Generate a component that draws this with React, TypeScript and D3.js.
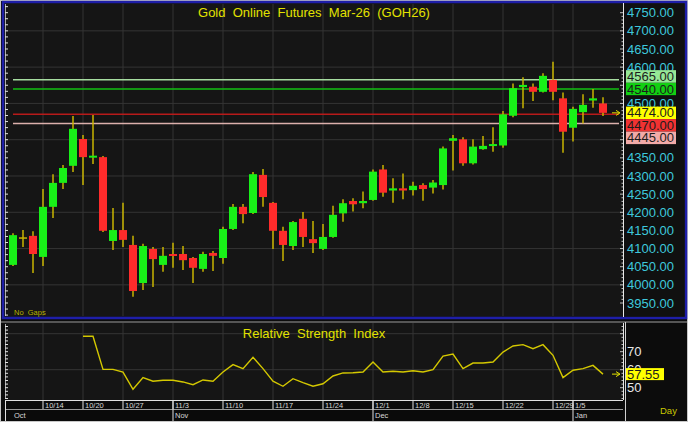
import * as d3 from "d3";

// trading days shown on the chart
const dates = [
  "10/9", "10/10", "10/13", "10/14", "10/15", "10/16", "10/17", "10/20", "10/21", "10/22",
  "10/23", "10/27", "10/28", "10/29", "10/30", "10/31", "11/3", "11/4", "11/5", "11/6",
  "11/7", "11/10", "11/11", "11/12", "11/13", "11/14", "11/17", "11/18", "11/19", "11/20",
  "11/21", "11/24", "11/25", "11/26", "11/27", "11/28", "12/1", "12/2", "12/3", "12/4",
  "12/8", "12/9", "12/10", "12/11", "12/15", "12/16", "12/17", "12/18", "12/19", "12/22",
  "12/23", "12/24", "12/25", "12/26", "12/29", "12/30", "1/5", "1/6", "1/7", "1/8",
];

const opens = [
  4055, 4129, 4135, 4077, 4215, 4281, 4328, 4402, 4353, 4352,
  4121, 4151, 4110, 4005, 4099, 4055, 4085, 4085, 4074, 4044,
  4088, 4074, 4154, 4215, 4198, 4303, 4226, 4149, 4107, 4182,
  4126, 4099, 4132, 4197, 4231, 4225, 4234, 4318, 4260, 4266,
  4261, 4275, 4268, 4275, 4397, 4401, 4335, 4374, 4385, 4384,
  4466, 4545, 4546, 4532, 4565, 4514, 4433, 4476, 4508, 4500,
];
const highs = [
  4142, 4151, 4148, 4264, 4305, 4330, 4465, 4413, 4468, 4355,
  4212, 4226, 4135, 4113, 4104, 4104, 4116, 4107, 4077, 4091,
  4093, 4160, 4223, 4223, 4311, 4319, 4228, 4160, 4176, 4201,
  4176, 4168, 4218, 4236, 4239, 4257, 4318, 4330, 4294, 4307,
  4284, 4280, 4289, 4381, 4413, 4407, 4401, 4410, 4434, 4479,
  4555, 4572, 4555, 4583, 4615, 4530, 4491, 4525, 4540, 4517,
];
const lows = [
  4052, 4104, 4033, 4052, 4184, 4264, 4311, 4275, 4333, 4146,
  4096, 4104, 3967, 3986, 3994, 4036, 4047, 4041, 4005, 4036,
  4038, 4058, 4151, 4170, 4195, 4215, 4099, 4066, 4096, 4104,
  4088, 4096, 4130, 4174, 4202, 4211, 4232, 4243, 4226, 4236,
  4246, 4232, 4252, 4263, 4315, 4328, 4332, 4372, 4367, 4378,
  4462, 4487, 4507, 4530, 4509, 4364, 4395, 4445, 4488, 4465,
];
const closes = [
  4137, 4129, 4085, 4215, 4281, 4322, 4430, 4352, 4356, 4149,
  4151, 4124, 3983, 4107, 4071, 4080, 4080, 4068, 4047, 4085,
  4080, 4154, 4215, 4195, 4305, 4242, 4149, 4110, 4173, 4132,
  4115, 4132, 4193, 4225, 4222, 4231, 4312, 4254, 4266, 4260,
  4273, 4264, 4282, 4376, 4404, 4335, 4381, 4383, 4388, 4470,
  4542, 4551, 4532, 4576, 4532, 4422, 4485, 4496, 4514, 4474,
];

const rsi = [
  null, null, null, null, null, null, null, 78.6, 78.6, 60.2,
  60.2, 58.7, 49.1, 55.6, 53.6, 54.1, 54.1, 53.2, 51.7, 54.3,
  53.6, 58.7, 62.8, 60.6, 66.9, 60.6, 53.6, 50.8, 55.0, 52.8,
  50.8, 52.2, 56.5, 58.2, 58.3, 58.7, 64.3, 58.7, 59.1, 58.7,
  59.4, 58.7, 60.0, 67.6, 68.7, 60.6, 63.7, 63.7, 64.3, 69.8,
  73.2, 73.9, 71.7, 73.9, 68.0, 55.6, 59.7, 60.6, 62.4, 57.55,
];

const weekTicks = ["10/14", "10/20", "10/27", "11/3", "11/10", "11/17", "11/24", "12/1", "12/8", "12/15", "12/22", "12/29", "1/5"];
const monthLabels = ["Oct", "Nov", "Dec", "Jan"];
const monthFirstDays = ["10/9", "11/3", "12/1", "1/5"];

const levelValues = [4565, 4540, 4470, 4445];
const levelLineColors = ["#a6dca0", "#12c012", "#b81a1a", "#dcb0ac"];
const levelBoxColors = ["#96e896", "#12d012", "#f03232", "#f2aaa8"];
const lastPrice = 4474;
const lastRsi = 57.55;

const FONT = "'Liberation Sans', Arial, sans-serif";
const GREEN = "#18f018";
const RED = "#ff2b2b";
const WICK = "#c8b400";
const GRID = "#343434";
const CYAN = "#3ec8dc";
const YELLOW = "#e2e200";

export default function App() {
  const x = d3.scaleBand<number>().domain(d3.range(dates.length)).range([8, 608]);
  const cx = (i: number) => (x(i) as number) + x.bandwidth() / 2;
  const y = d3.scaleLinear().domain([3950, 4750]).range([303, 12.7]);
  const yr = d3.scaleLinear().domain([50, 70]).range([387.7, 351.7]);

  const tickX = weekTicks.map((t) => cx(dates.indexOf(t)));
  const monthX = monthFirstDays.map((t) => cx(dates.indexOf(t)));

  const rsiLine = d3
    .line<number | null>()
    .defined((d) => d != null)
    .x((_, i) => cx(i))
    .y((d) => yr(d as number));

  // price label boxes: last price stays, others stack away from it
  const boxH = 12.5;
  const boxes: { v: number; fill: string; cy: number }[] = [];
  const lastY = y(lastPrice);
  boxes.push({ v: lastPrice, fill: "#ffff00", cy: lastY });
  const above = levelValues
    .map((v, i) => ({ v, fill: levelBoxColors[i] }))
    .filter((d) => d.v > lastPrice)
    .sort((a, b) => a.v - b.v);
  let edge = lastY;
  above.forEach((d) => {
    const cy = Math.min(y(d.v), edge - boxH);
    boxes.push({ ...d, cy });
    edge = cy;
  });
  const below = levelValues
    .map((v, i) => ({ v, fill: levelBoxColors[i] }))
    .filter((d) => d.v < lastPrice)
    .sort((a, b) => b.v - a.v);
  edge = lastY;
  below.forEach((d) => {
    const cy = Math.max(y(d.v), edge + boxH);
    boxes.push({ ...d, cy });
    edge = cy;
  });

  // axis labels fully hidden behind a box are not drawn
  const axisLabels = y.ticks(16).filter((t) => !boxes.some((b) => Math.abs(b.cy - y(t)) < 5));

  const rulerTicks = d3.range(3900, 4800, 100 / 6);
  const axisMinor = d3.range(3950, 4751, 10);
  const rsiMinor = d3.range(44, 85, 2);

  return (
    <svg
      width={688}
      height={422}
      style={{ position: "absolute", left: 0, top: 0, fontFamily: FONT }}
    >
      <rect x={0} y={0} width={688} height={422} fill="#0c0c0c" />
      <rect x={0.5} y={0.5} width={687} height={421} fill="none" stroke="#c8c8c8" />

      {/* price panel */}
      <rect x={3} y={2} width={683} height={316} fill="#151515" stroke="#1e1ea8" strokeWidth={2.5} />
      <rect x={624} y={3.5} width={60.5} height={313} fill="#101010" />
      {y.ticks(8).map((t) => (
        <line key={"hg" + t} x1={5} x2={623} y1={y(t)} y2={y(t)} stroke={GRID} />
      ))}
      {tickX.map((tx, i) => (
        <line key={"vg" + i} x1={tx} x2={tx} y1={4} y2={316} stroke={GRID} />
      ))}
      <text x={314} y={17} fill={YELLOW} fontSize={13} textAnchor="middle" style={{ whiteSpace: "pre" }}>
        {"Gold  Online  Futures  Mar-26  (GOH26)"}
      </text>
      <text x={14} y={315} fill="#b8b000" fontSize={7.5} style={{ whiteSpace: "pre" }}>
        {"No  Gaps"}
      </text>

      {/* left ruler */}
      <line x1={5.5} x2={5.5} y1={4} y2={316} stroke="#d0d0d0" strokeWidth={0.8} />
      {rulerTicks.map((t, i) =>
        y(t) > 4 && y(t) < 316 ? (
          <line key={"lr" + i} x1={5} x2={8} y1={y(t)} y2={y(t)} stroke="#e0e0e0" />
        ) : null
      )}

      {/* level lines */}
      {levelValues.map((v, i) => (
        <line key={"lv" + v} x1={13} x2={619} y1={y(v)} y2={y(v)} stroke={levelLineColors[i]} strokeWidth={1.5} />
      ))}

      {/* candles */}
      {dates.map((d, i) => {
        const o = opens[i];
        const c = closes[i];
        const up = c > o;
        const flat = c === o;
        const top = y(Math.max(o, c));
        const bot = y(Math.min(o, c));
        const bw = 8;
        return (
          <g key={"c" + d}>
            <line x1={cx(i)} x2={cx(i)} y1={y(highs[i])} y2={y(lows[i])} stroke={WICK} strokeWidth={1.5} />
            {flat ? (
              <line x1={cx(i) - bw / 2} x2={cx(i) + bw / 2} y1={top} y2={top} stroke={WICK} strokeWidth={1.5} />
            ) : (
              <rect
                x={cx(i) - bw / 2}
                y={top}
                width={bw}
                height={Math.max(2, bot - top)}
                fill={up ? GREEN : RED}
              />
            )}
          </g>
        );
      })}

      {/* right price axis */}
      <line x1={623.5} x2={623.5} y1={3} y2={317} stroke="#e8e8e8" />
      {axisMinor.map((t) => (
        <line
          key={"am" + t}
          x1={t % 50 === 0 ? 620 : 621.5}
          x2={623.5}
          y1={y(t)}
          y2={y(t)}
          stroke="#e8e8e8"
          strokeWidth={0.8}
        />
      ))}
      {axisLabels.map((t) => (
        <text key={"al" + t} x={627} y={y(t) + 4.6} fill={CYAN} fontSize={13}>
          {d3.format(".2f")(t)}
        </text>
      ))}
      {boxes.map((b) => (
        <g key={"bx" + b.v}>
          <rect x={626} y={b.cy - boxH / 2} width={50} height={boxH} fill={b.fill} />
          <text x={627} y={b.cy + 4.6} fill="#1c1c1c" fontSize={13}>
            {d3.format(".2f")(b.v)}
          </text>
        </g>
      ))}
      <line x1={612} x2={619} y1={lastY} y2={lastY} stroke={YELLOW} strokeWidth={1} />
      <path d={`M616,${lastY - 2.5} L620,${lastY} L616,${lastY + 2.5}`} fill="none" stroke={YELLOW} strokeWidth={1} />

      {/* RSI panel */}
      <line x1={1} x2={687} y1={322} y2={322} stroke="#a0a0a0" />
      <rect x={5} y={323} width={618} height={77} fill="#151515" />
      {[60, 80].map((t) => (
        <line key={"rg" + t} x1={5} x2={623} y1={yr(t)} y2={yr(t)} stroke={GRID} />
      ))}
      {tickX.map((tx, i) => (
        <line key={"rvg" + i} x1={tx} x2={tx} y1={323} y2={400} stroke={GRID} />
      ))}
      <text x={314} y={338} fill={YELLOW} fontSize={13} textAnchor="middle" style={{ whiteSpace: "pre" }}>
        {"Relative  Strength  Index"}
      </text>
      <line x1={5.5} x2={5.5} y1={324} y2={399} stroke="#d0d0d0" strokeWidth={0.8} />
      {rsiMinor.map((t) =>
        yr(t) > 324 && yr(t) < 399 ? (
          <line key={"rl" + t} x1={5} x2={8} y1={yr(t)} y2={yr(t)} stroke="#e0e0e0" />
        ) : null
      )}
      <path d={rsiLine(rsi) ?? ""} fill="none" stroke="#d4c800" strokeWidth={1.4} />
      <line x1={623.5} x2={623.5} y1={323} y2={400} stroke="#e8e8e8" />
      {rsiMinor.map((t) =>
        yr(t) > 324 && yr(t) < 399 ? (
          <line key={"ra" + t} x1={t % 10 === 0 ? 620 : 621.5} x2={623.5} y1={yr(t)} y2={yr(t)} stroke="#e8e8e8" strokeWidth={0.8} />
        ) : null
      )}
      {[50, 60, 70].map((t) => (
        <text key={"rt" + t} x={627} y={yr(t) + 4.6} fill="#e8e8e8" fontSize={13}>
          {t}
        </text>
      ))}
      <rect x={626} y={yr(lastRsi) - 6} width={38} height={12} fill="#ffff00" />
      <text x={627} y={yr(lastRsi) + 4.6} fill="#1c1c1c" fontSize={13}>
        {d3.format(".2f")(lastRsi)}
      </text>
      <line x1={612} x2={619} y1={yr(lastRsi)} y2={yr(lastRsi)} stroke={YELLOW} strokeWidth={1} />
      <path
        d={`M616,${yr(lastRsi) - 2.5} L620,${yr(lastRsi)} L616,${yr(lastRsi) + 2.5}`}
        fill="none"
        stroke={YELLOW}
        strokeWidth={1}
      />

      {/* date axis */}
      <rect x={5} y={400} width={618} height={21} fill="#0a0a0a" />
      <line x1={5} x2={623} y1={400.5} y2={400.5} stroke="#e0e0e0" />
      <line x1={5} x2={623} y1={409.5} y2={409.5} stroke="#9a9a9a" />
      <line x1={5.5} x2={5.5} y1={400} y2={421} stroke="#e0e0e0" />
      {tickX.map((tx, i) => (
        <g key={"wt" + i}>
          <line x1={tx} x2={tx} y1={400} y2={409} stroke="#e0e0e0" />
          <text x={tx + 2} y={408} fill="#d8d8d8" fontSize={7.5}>
            {weekTicks[i]}
          </text>
        </g>
      ))}
      {monthX.map((mx, i) => (
        <g key={"mt" + i}>
          {i > 0 ? <line x1={mx} x2={mx} y1={400} y2={421} stroke="#e0e0e0" /> : null}
          <text x={i === 0 ? 14 : mx + 2} y={418} fill="#d8d8d8" fontSize={7.5}>
            {monthLabels[i]}
          </text>
        </g>
      ))}
      <line x1={625.5} x2={625.5} y1={322} y2={421} stroke="#d0d0d0" />
      <text x={660} y={414} fill="#c8c800" fontSize={9.5}>
        Day
      </text>
    </svg>
  );
}
